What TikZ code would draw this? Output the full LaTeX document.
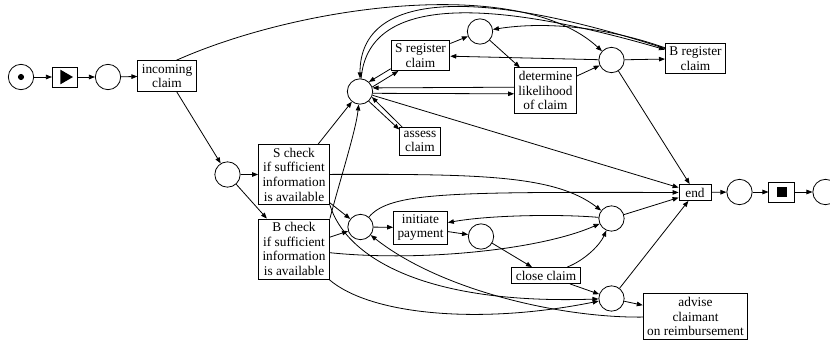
\documentclass[tikz,border=0pt]{standalone}
\usepackage{fontspec}
\setmainfont{Liberation Serif}
\usetikzlibrary{arrows.meta}
\tikzstyle{place} = [circle, draw=black, line width=0.6pt, minimum size=19pt, inner sep=0pt]
\tikzstyle{trans} = [rectangle, draw=black, line width=0.6pt, align=center, inner xsep=3pt, inner ysep=2.5pt, font=\fontsize{10pt}{11pt}\selectfont]
\tikzstyle{arrow} = [-{Triangle[length=4.5pt,width=3.4pt]}, line width=0.6pt]

\begin{document}
\begin{tikzpicture}[x=0.75pt, y=-0.75pt]

    \useasboundingbox (0,0) rectangle (830,346);

    \node (pstart) [place] at (21,77) {};
    \node (tplay) [trans, minimum width=19pt, minimum height=15pt] at (65,77) {};
    \node (p1) [place] at (108,77) {};
    \node (incoming) [trans] at (167,76) {incoming\\claim};
    \node (p2) [place] at (227.5,174.5) {};
    \node (Scheck) [trans] at (294,174.5) {S check\\if sufficient\\information\\is available};
    \node (Bcheck) [trans] at (294,249) {B check\\if sufficient\\information\\is available};
    \node (p3) [place] at (360,91.5) {};
    \node (Sreg) [trans] at (420.5,55.5) {S register\\claim};
    \node (p4) [place] at (480,31.5) {};
    \node (determine) [trans] at (545.5,90.5) {determine\\likelihood\\of claim};
    \node (p5) [place] at (611.5,60) {};
    \node (Breg) [trans] at (695.5,58.5) {B register\\claim};
    \node (assess) [trans] at (420,141.5) {assess\\claim};
    \node (p6) [place] at (360.5,227) {};
    \node (initiate) [trans] at (420.5,227.5) {initiate\\payment};
    \node (p7) [place] at (481,236.5) {};
    \node (p8) [place] at (611.5,218.5) {};
    \node (close) [trans] at (546,275.5) {close claim};
    \node (p9) [place] at (611.5,298.5) {};
    \node (advise) [trans] at (695.5,316.5) {advise\\claimant\\on reimbursement};
    \node (end) [trans, minimum width=24pt] at (695,192.5) {end};
    \node (p10) [place] at (739.5,192) {};
    \node (tstop) [trans, minimum width=19pt, minimum height=15pt] at (781.5,192) {};
    \node (pend) [place] at (825.5,192) {};

    \fill (pstart.center) circle (2.3pt);
    \fill ([shift={(-3.5pt,5.5pt)}]tplay.center) -- ([shift={(6pt,0pt)}]tplay.center) -- ([shift={(-3.5pt,-5.5pt)}]tplay.center) -- cycle;
    \fill ([shift={(-3.75pt,-3.75pt)}]tstop.center) rectangle ([shift={(3.75pt,3.75pt)}]tstop.center);

    \draw [arrow] (pstart) -- (tplay);
    \draw [arrow] (tplay) -- (p1);
    \draw [arrow] (p1) -- (incoming);
    \draw [arrow] (incoming) -- (p2);
    \draw [arrow] (incoming.60) .. controls (300,5) and (520,-25) .. (p5);
    \draw [arrow] (p2) -- (Scheck);
    \draw [arrow] (p2) -- (Bcheck);

    \draw [arrow] (Scheck) -- (p3);
    \draw [arrow] (Bcheck.north east) .. controls (340,180) and (356,130) .. (p3);
    \draw [arrow] (Sreg.204) -- (p3.47);
    \draw [arrow] (p3.20) -- (Sreg.215);
    \draw [arrow] (determine.174) -- (p3.16);
    \draw [arrow] (p3.-8) -- (determine.186);
    \draw [arrow] (p3.-48) -- (assess.150);
    \draw [arrow] (assess.141) -- (p3.-25);
    \draw [arrow] (Breg) .. controls (480,-12) and (360,-10) .. (p3);
    \draw [arrow] (p3) .. controls (368,-2) and (480,-4) .. (Breg);
    \draw [arrow] (p3) -- (end);

    \draw [arrow] (Sreg) -- (p4);
    \draw [arrow] (Breg) .. controls (600,25) and (540,22) .. (p4);
    \draw [arrow] (p4) -- (determine);
    \draw [arrow] (determine) -- (p5);
    \draw [arrow] (p5) -- (Breg);
    \draw [arrow] (p5) -- (Sreg);
    \draw [arrow] (p5) -- (end);

    \draw [arrow] (Scheck) -- (p6);
    \draw [arrow] (Bcheck) -- (p6);
    \draw [arrow] (Scheck) .. controls (480,174) and (555,175) .. (p8);
    \draw [arrow] (Scheck.south east) .. controls (345,255) and (420,305) .. (p9);
    \draw [arrow] (Bcheck) .. controls (420,262) and (540,250) .. (p8);
    \draw [arrow] (Bcheck) .. controls (370,315) and (480,325) .. (p9);

    \draw [arrow] (p6) .. controls (390,192) and (450,192) .. (end);
    \draw [arrow] (p6) -- (initiate);
    \draw [arrow] (initiate) -- (p7);
    \draw [arrow] (p7) -- (close);
    \draw [arrow] (p8) .. controls (560,214) and (490,215) .. (initiate);
    \draw [arrow] (close) .. controls (585,260) and (600,245) .. (p8);
    \draw [arrow] (close) -- (p9);
    \draw [arrow] (p8) -- (end);
    \draw [arrow] (p9) -- (end);
    \draw [arrow] (p9) -- (advise);
    \draw [arrow] (advise) .. controls (560,318) and (440,290) .. (p6);

    \draw [arrow] (end) -- (p10);
    \draw [arrow] (p10) -- (tstop);
    \draw [arrow] (tstop) -- (pend);

\end{tikzpicture}
\end{document}
